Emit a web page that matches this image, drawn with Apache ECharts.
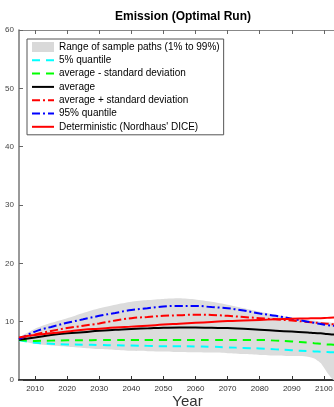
<!DOCTYPE html>
<html>
<head>
<meta charset="utf-8">
<script src="https://cdn.jsdelivr.net/npm/echarts@6/dist/echarts.min.js"></script>
<style>
  html, body { margin: 0; padding: 0; background: #fff; }
  #main { width: 334px; height: 407px; }
</style>
</head>
<body>
<div id="main"></div>
<script>
var years = [2005, 2010, 2015, 2020, 2025, 2030, 2035, 2040, 2045, 2050, 2055, 2060,
             2065, 2070, 2075, 2080, 2085, 2090, 2095, 2097, 2099, 2101, 2103, 2105];
var bandLow = [6.8, 6.2, 5.9, 5.7, 5.5, 5.3, 5.15, 5.0, 4.95, 4.9, 4.8, 4.75,
               4.7, 4.6, 4.45, 4.3, 4.2, 4.1, 4.0, 3.7, 2.9, 1.3, 0, 0];
var bandHigh = [7.3, 8.8, 9.8, 10.6, 11.5, 12.3, 12.9, 13.4, 13.7, 13.9, 14.0, 13.8,
                13.4, 12.9, 12.3, 11.7, 11.2, 10.7, 10.3, 10.2, 10.0, 9.9, 9.8, 9.7];
var q5 = [6.8, 6.4, 6.2, 6.1, 6.05, 6.0, 5.95, 5.9, 5.85, 5.8, 5.8, 5.75,
          5.7, 5.6, 5.5, 5.4, 5.25, 5.1, 4.95, 4.9, 4.85, 4.8, 4.75, 4.7];
var avgMinusSd = [6.9, 6.7, 6.75, 6.8, 6.8, 6.85, 6.85, 6.85, 6.85, 6.85, 6.85, 6.85,
                  6.85, 6.85, 6.85, 6.85, 6.75, 6.6, 6.4, 6.3, 6.2, 6.1, 6.05, 6.0];
var avg = [6.9, 7.3, 7.7, 8.0, 8.2, 8.45, 8.6, 8.75, 8.85, 8.95, 9.0, 9.0,
           8.95, 8.9, 8.8, 8.6, 8.45, 8.3, 8.15, 8.05, 8.0, 7.9, 7.8, 7.75];
var avgPlusSd = [7.1, 7.8, 8.4, 8.9, 9.3, 9.7, 10.2, 10.6, 10.8, 11.0, 11.1, 11.2,
                 11.15, 11.0, 10.8, 10.6, 10.4, 10.2, 9.95, 9.85, 9.75, 9.65, 9.55, 9.5];
var q95 = [7.0, 8.3, 9.1, 9.8, 10.4, 11.0, 11.5, 12.0, 12.3, 12.6, 12.7, 12.7,
           12.5, 12.3, 11.9, 11.4, 11.0, 10.5, 10.0, 9.8, 9.6, 9.4, 9.3, 9.2];
var dice = [7.3, 7.7, 8.0, 8.3, 8.6, 8.8, 9.0, 9.15, 9.3, 9.5, 9.65, 9.8,
            9.95, 10.1, 10.2, 10.3, 10.4, 10.5, 10.55, 10.6, 10.6, 10.65, 10.7, 10.7];
var xTicks = [2010, 2020, 2030, 2040, 2050, 2060, 2070, 2080, 2090, 2100];

var names = ['Range of sample paths (1% to 99%)', '5% quantile', 'average - standard deviation',
             'average', 'average + standard deviation', '95% quantile', "Deterministic (Nordhaus' DICE)"];

var font = 'Liberation Sans, Arial, sans-serif';

function pairs(vals) {
    return years.map(function (y, i) { return [y, vals[i]]; });
}

// band polygon: upper edge forward, lower edge back
var bandData = years.map(function (y, i) { return [y, bandLow[i], bandHigh[i]]; });

function lineSeries(name, vals, color, type) {
    return {
        name: name,
        type: 'line',
        data: pairs(vals),
        symbol: 'none',
        smooth: true,
        color: color,
        lineStyle: { color: color, width: 2, type: type }
    };
}

var option = {
    animation: false,
    textStyle: { fontFamily: font },
    title: {
        text: 'Emission (Optimal Run)',
        left: 110,
        top: 6,
        textStyle: { fontSize: 12, fontWeight: 'bold', color: '#000', fontFamily: font }
    },
    legend: {
        orient: 'vertical',
        left: 27,
        top: 39,
        padding: [3, 4, 3, 4],
        itemGap: 3.3,
        itemWidth: 22,
        itemHeight: 10,
        borderColor: '#555',
        borderWidth: 1,
        backgroundColor: '#fff',
        itemStyle: { opacity: 0 },
        textStyle: { fontSize: 10, color: '#000', fontFamily: font },
        data: [
            { name: names[0], icon: 'rect', itemStyle: { color: '#d9d9d9', opacity: 1 } },
            names[1], names[2], names[3], names[4], names[5], names[6]
        ]
    },
    grid: { left: 19, right: -22, top: 30, bottom: 27, outerBoundsMode: 'none', containLabel: false },
    xAxis: [{
        type: 'value',
        min: 2005,
        max: 2110,
        name: 'Year',
        nameLocation: 'middle',
        nameGap: 14,
        nameMoveOverlap: false,
        nameTextStyle: { fontSize: 15, color: '#333', fontFamily: font },
        splitLine: { show: false },
        axisLine: { lineStyle: { color: '#333', width: 2 } },
        axisTick: { inside: true, length: 4, customValues: xTicks, lineStyle: { color: '#333' } },
        axisLabel: {
            customValues: xTicks, fontSize: 8, color: '#333', margin: 5, fontFamily: font,
            formatter: function (v) { return String(v); }
        }
    }, {
        type: 'value',
        position: 'top',
        min: 2005,
        max: 2110,
        splitLine: { show: false },
        axisLine: { lineStyle: { color: '#888', width: 1 } },
        axisTick: { inside: true, length: 4, customValues: xTicks, lineStyle: { color: '#666' } },
        axisLabel: { show: false }
    }],
    yAxis: {
        type: 'value',
        min: 0,
        max: 60,
        interval: 10,
        splitLine: { show: false },
        axisLine: { show: true, lineStyle: { color: '#777', width: 1.5 } },
        axisTick: { show: true, inside: true, length: 4, lineStyle: { color: '#666' } },
        axisLabel: { fontSize: 8, color: '#444', margin: 5, fontFamily: font }
    },
    series: [
        {
            name: names[0],
            type: 'custom',
            silent: true,
            clip: true,
            itemStyle: { color: '#d9d9d9' },
            data: [0],
            renderItem: function (params, api) {
                var pts = [];
                bandData.forEach(function (d) { pts.push(api.coord([d[0], d[2]])); });
                bandData.slice().reverse().forEach(function (d) { pts.push(api.coord([d[0], d[1]])); });
                return {
                    type: 'polygon',
                    shape: { points: pts, smooth: 0.2 },
                    style: { fill: '#dcdcdc' }
                };
            }
        },
        lineSeries(names[1], q5, '#00ffff', [8, 6]),
        lineSeries(names[2], avgMinusSd, '#00ff00', [8, 6]),
        lineSeries(names[3], avg, '#000000', 'solid'),
        lineSeries(names[4], avgPlusSd, '#ff0000', [8, 3, 2, 3]),
        lineSeries(names[5], q95, '#0000ff', [8, 3, 2, 3]),
        lineSeries(names[6], dice, '#ff0000', 'solid')
    ]
};

var myChart = echarts.init(document.getElementById('main'));
myChart.setOption(option);
</script>
</body>
</html>
